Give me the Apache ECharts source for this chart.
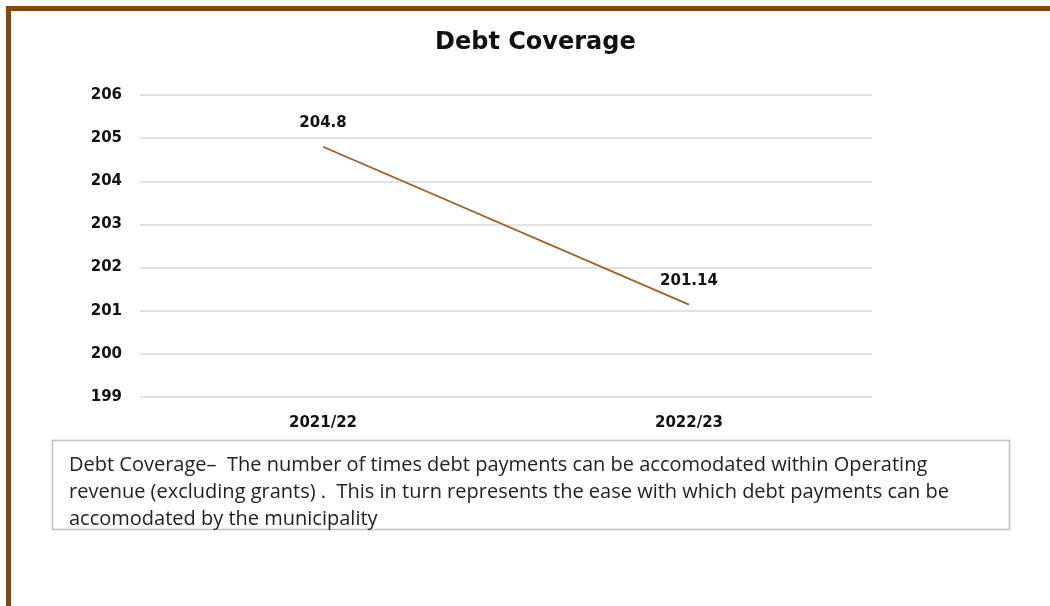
<!DOCTYPE html>
<html>
<head>
<meta charset="utf-8">
<script src="https://cdn.jsdelivr.net/npm/echarts@6/dist/echarts.min.js"></script>
<style>
  html, body { margin: 0; padding: 0; background: #fff; }
  #chart { width: 1050px; height: 606px; }
</style>
</head>
<body>
<div id="chart"></div>
<script>
var years = ['2021/22', '2022/23'];
var coverage = [204.8, 201.14];
var yTicks = [199, 200, 201, 202, 203, 204, 205, 206];
var noteLines = [
    'Debt Coverage\u2013  The number of times debt payments can be accomodated within Operating',
    'revenue (excluding grants) .  This in turn represents the ease with which debt payments can be',
    'accomodated by the municipality'
];

var chart = echarts.init(document.getElementById('chart'));

var axisFont = {
    fontFamily: 'DejaVu Sans',
    fontWeight: 'bold',
    fontSize: 15,
    color: '#111'
};

var option = {
    animation: false,
    title: {
        text: 'Debt Coverage',
        left: 430,
        top: 26,
        textStyle: {
            fontFamily: 'DejaVu Sans',
            fontWeight: 'bold',
            fontSize: 24,
            color: '#111'
        }
    },
    grid: {
        left: 140,
        right: 178,
        top: 95,
        height: 302
    },
    xAxis: {
        type: 'category',
        data: years,
        boundaryGap: true,
        axisLine: { show: false },
        axisTick: { show: false },
        axisLabel: Object.assign({ margin: 19 }, axisFont)
    },
    yAxis: {
        type: 'value',
        min: yTicks[0],
        max: yTicks[yTicks.length - 1],
        interval: 1,
        axisLine: { show: false },
        axisTick: { show: false },
        splitLine: { lineStyle: { color: '#d9d9d9', width: 1.5 } },
        axisLabel: Object.assign({ margin: 18 }, axisFont)
    },
    series: [{
        type: 'line',
        data: coverage,
        symbol: 'circle',
        symbolSize: 1,
        showSymbol: true,
        itemStyle: { color: 'rgba(0,0,0,0)' },
        lineStyle: { color: '#9e6226', width: 1.8 },
        label: {
            show: true,
            position: 'top',
            distance: 16,
            fontFamily: 'DejaVu Sans',
            fontWeight: 'bold',
            fontSize: 15,
            color: '#111'
        }
    }],
    graphic: [{
        type: 'rect',
        shape: { x: 8.5, y: 8.5, width: 1060, height: 620 },
        style: { fill: 'none', stroke: '#8a4500', lineWidth: 5 },
        silent: true
    }, {
        type: 'rect',
        shape: { x: 52.5, y: 440.5, width: 957, height: 89 },
        style: { fill: 'none', stroke: '#bfbfbf', lineWidth: 1.5 },
        silent: true
    }, {
        type: 'text',
        left: 69,
        top: 452,
        style: {
            text: noteLines.join('\n'),
            font: '20px "Open Sans"',
            lineHeight: 27,
            fill: '#222'
        }
    }]
};

chart.setOption(option);
</script>
</body>
</html>
